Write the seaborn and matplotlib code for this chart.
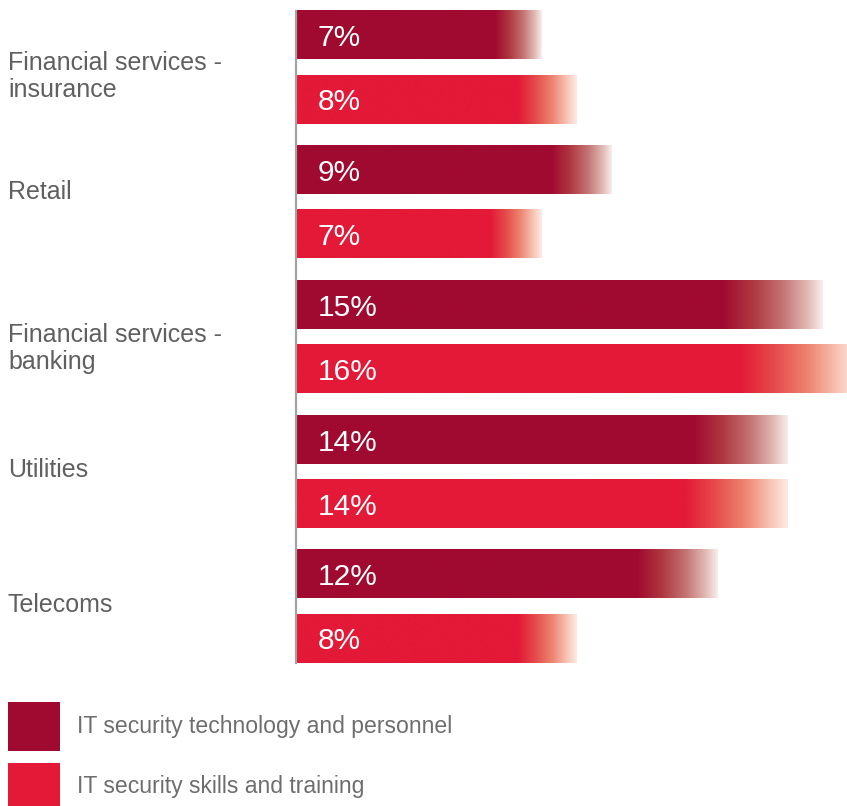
import numpy as np
import pandas as pd
import matplotlib
matplotlib.use("Agg")
import matplotlib.pyplot as plt
from matplotlib.patches import Rectangle
from matplotlib.colors import LinearSegmentedColormap
import seaborn as sns

# Share of budget by sector
sectors = ["Financial services -\ninsurance", "Retail", "Financial services -\nbanking",
           "Utilities", "Telecoms"]
tech_personnel = [7, 9, 15, 14, 12]
skills_training = [8, 7, 16, 14, 8]
series_names = ["IT security technology and personnel", "IT security skills and training"]
colors = ["#A10A30", "#E31937"]

# tints each bar passes through as it fades out at its tip
fade_stops = [
    ["#A10A30", "#AF3741", "#C37373", "#E1B9B4", "#F8ECEA"],
    ["#E31937", "#E64B4B", "#EE8773", "#F8C8B9", "#FCEAE2"],
]
fade_pos = [0.0, 0.3, 0.6, 0.85, 1.0]

# vertical nudges (points) for the sector labels
label_nudge = [-6.5, 7.5, -8.4, 1.6, 1.1]

df = pd.DataFrame({
    "sector": sectors * 2,
    "value": tech_personnel + skills_training,
    "series": [series_names[0]] * len(sectors) + [series_names[1]] * len(sectors),
})

sns.set_theme(style="white")
plt.rcParams["font.family"] = ["Liberation Sans", "DejaVu Sans"]

W, H = 847, 806
fig = plt.figure(figsize=(W / 100, H / 100), dpi=100)
ax_left, ax_top, ax_bottom = 296, 1, 681
ax = fig.add_axes([ax_left / W, (H - ax_bottom) / H, (W - ax_left) / W, (ax_bottom - ax_top) / H])

sns.barplot(data=df, y="sector", x="value", hue="series", palette=colors,
            orient="h", width=0.95, gap=0.25, legend=False, ax=ax)

px_per_pct = 35.1
xmax = (W - ax_left) / px_per_pct
c0, step = 67.5, 134.75
ymin_k = (ax_top - c0) / step
ymax_k = (ax_bottom - c0) / step


def fade_image(stops, fade_frac):
    n = 500
    cmap = LinearSegmentedColormap.from_list("fade", list(zip(fade_pos, stops)))
    t = np.linspace(0, 1, n)
    s = np.clip((t - (1 - fade_frac)) / fade_frac, 0, 1)
    return cmap(s)[None, :, :].repeat(2, axis=0)


ys, ye = [], []
for cont, stops, frac in zip(ax.containers, fade_stops, [0.19, 0.21]):
    for bar, v in zip(cont, cont.datavalues):
        x0, y0, w, h = bar.get_x(), bar.get_y(), bar.get_width(), bar.get_height()
        ax.imshow(fade_image(stops, frac), extent=[x0, x0 + w, y0 + h, y0],
                  aspect="auto", interpolation="bilinear", zorder=2)
        bar.set_visible(False)
        ys.append(y0)
        ye.append(y0 + h)
        ax.annotate(f"{v:g}%", xy=(x0, y0 + h / 2), xytext=(15.8, -2.0),
                    textcoords="offset points", ha="left", va="center",
                    color="white", fontsize=21.5, zorder=3)

ax.set_xlim(0, xmax)
ax.set_ylim(ymax_k, ymin_k)
ax.set_xlabel("")
ax.set_ylabel("")
ax.set_xticks([])
ax.set_yticks([])
for s in ["top", "right", "bottom"]:
    ax.spines[s].set_visible(False)
ax.spines["left"].set_color("#a3a3a3")
ax.spines["left"].set_linewidth(1.6)
ax.spines["left"].set_zorder(4)
ax.spines["left"].set_bounds(min(ys), max(ye))

# sector labels at the left edge of the figure
trans = matplotlib.transforms.blended_transform_factory(fig.transFigure, ax.transData)
for i, (name, dy) in enumerate(zip(sectors, label_nudge)):
    ax.annotate(name, xy=(8 / W, i), xycoords=trans, xytext=(0, dy),
                textcoords="offset points", ha="left", va="center",
                fontsize=18, color="#606060", linespacing=1.15,
                annotation_clip=False)

# legend: swatches and labels placed in figure pixels
for i, (name, col) in enumerate(zip(series_names, colors)):
    top = 702 + 61 * i
    fig.add_artist(Rectangle((8 / W, 1 - (top + 49) / H), 52 / W, 49 / H,
                             transform=fig.transFigure, facecolor=col,
                             edgecolor="none"))
    fig.text(77 / W, 1 - (top + 24) / H, name, ha="left", va="center",
             fontsize=16.6, color="#6e6e6e")

fig.savefig("out.png", dpi=100)
